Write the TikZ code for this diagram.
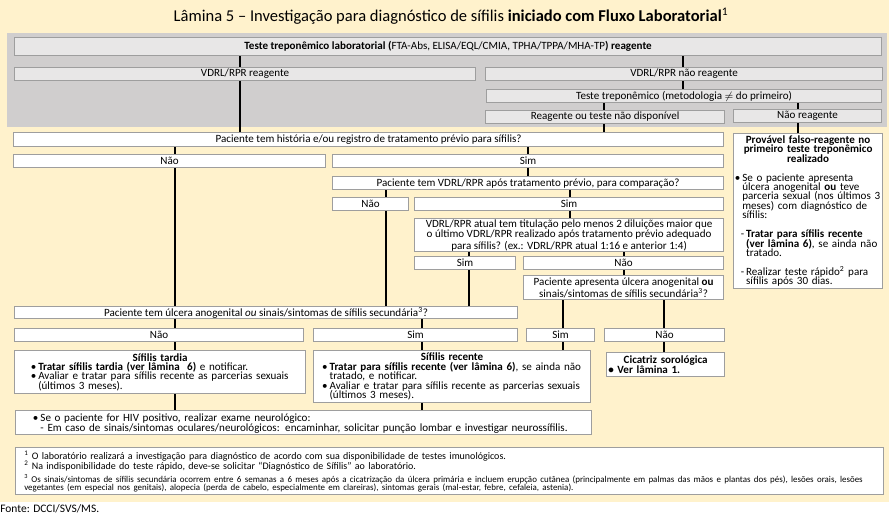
\documentclass[tikz,border=0pt]{standalone}
\usepackage{fontspec}
\setmainfont{Carlito}
\usepackage{tikz}
\definecolor{bege}{RGB}{255,242,204}
\definecolor{cinza}{RGB}{208,206,206}
\definecolor{cinzac}{RGB}{232,231,231}
\definecolor{borda}{RGB}{158,158,158}
\def \px {0.75pt}
\def \apertado {\lineskiplimit-10pt\relax}
\def \solto {\lineskip0pt\relax}
\def \bul {\par\setbox0\hbox{•\hspace{1.5pt}}\hangindent\wd0\hangafter1\noindent\box0}
\def \dsh {\par\setbox0\hbox{\hspace*{4.5pt}-\hspace{1.5pt}}\hangindent\wd0\hangafter1\noindent\box0}
\tikzstyle{caixa} = [draw=borda,line width=0.9pt,fill=white,inner sep=0,anchor=north west,align=center,font=\fontsize{8.3}{7.1}\selectfont]
\tikzstyle{cinzabox} = [caixa,fill=cinzac]
\tikzstyle{texto} = [caixa,align=left,font=\fontsize{8.3}{7.1}\selectfont\apertado]
\tikzstyle{wd} = [minimum width=#1*\px]
\tikzstyle{ht} = [minimum height=#1*\px]
\tikzstyle{ligacao} = [-,line width=1.4pt]

\begin{document}
\begin{tikzpicture}[x=\px,y=-\px]
  \useasboundingbox (0,0) rectangle (889,516);
  % fundo
  \fill[bege] (0,0) rectangle (889,502);
  \fill[cinza] (7,33) rectangle (887,127);
  \node[font=\fontsize{12.4}{14}\selectfont] (titulo) at (451,16) {Lâmina 5 – Investigação para diagnóstico de sífilis \textbf{iniciado com Fluxo Laboratorial}\textsuperscript{1}};

  % fluxo laboratorial
  \node[cinzabox,wd=867,ht=18] (trep) at (14,37) {\textbf{Teste treponêmico laboratorial (}FTA-Abs, ELISA/EQL/CMIA, TPHA/TPPA/MHA-TP\textbf{) reagente}};
  \node[cinzabox,wd=461,ht=13] (vdrlr) at (14,67) {VDRL/RPR reagente};
  \node[cinzabox,wd=397,ht=13] (vdrlnr) at (485,67) {VDRL/RPR não reagente};
  \node[cinzabox,wd=395,ht=13] (trepb) at (486,89) {Teste treponêmico (metodologia $\neq$ do primeiro)};
  \node[cinzabox,wd=239,ht=13] (reagnd) at (485,110) {Reagente ou teste não disponível};
  \node[cinzabox,wd=148,ht=13] (nreag) at (733,109) {Não reagente};

  \node[caixa,wd=710,ht=14] (hist) at (13,132) {Paciente tem história e/ou registro de tratamento prévio para sífilis?};
  \node[caixa,wd=312,ht=13] (histn) at (13,154) {Não};
  \node[caixa,wd=391,ht=13] (hists) at (332,154) {Sim};
  \node[caixa,wd=391,ht=13] (vdrlp) at (332,176) {Paciente tem VDRL/RPR após tratamento prévio, para comparação?};
  \node[caixa,wd=76,ht=13] (vdrlpn) at (332,197) {Não};
  \node[caixa,wd=309,ht=13] (vdrlps) at (414,197) {Sim};
  \node[caixa,wd=309,ht=33] (titul) at (414,218) {VDRL/RPR atual tem titulação pelo menos 2 diluições maior que\\o último VDRL/RPR realizado após tratamento prévio adequado\\para sífilis? (ex.: VDRL/RPR atual 1:16 e anterior 1:4)};
  \node[caixa,wd=101,ht=13] (tituls) at (414,256) {Sim};
  \node[caixa,wd=200,ht=13] (tituln) at (523,256) {Não};
  \node[caixa,wd=200,ht=24] (ulcb) at (523,275) {Paciente apresenta úlcera anogenital \textbf{ou}\\sinais/sintomas de sífilis secundária\textsuperscript{3}?};
  \node[caixa,wd=68,ht=13] (ulcbs) at (526,328) {Sim};
  \node[caixa,wd=120,ht=13] (ulcbn) at (604,328) {Não};
  \node[caixa,wd=503,ht=12] (ulca) at (14,306) {Paciente tem úlcera anogenital \textit{ou} sinais/sintomas de sífilis secundária\textsuperscript{3}?};
  \node[caixa,wd=289,ht=13] (ulcan) at (14,328) {Não};
  \node[caixa,wd=204,ht=13] (ulcas) at (313,328) {Sim};

  % condutas
  \node[texto,wd=291,ht=43,text width=198pt] (tardia) at (14,350) {\leftskip2pt{\centering\textbf{Sífilis tardia}\par}
    \bul\textbf{Tratar sífilis tardia (ver lâmina~~6)} e notificar.
    \bul Avaliar e tratar para sífilis recente as parcerias sexuais\newline (últimos 3 meses).\par};
  \node[texto,wd=277,ht=52,text width=205pt] (recente) at (313,350) {\leftskip5pt{\centering\textbf{Sífilis recente}\par}
    \bul\textbf{Tratar para sífilis recente (ver lâmina 6)}, se ainda não\newline tratado, e notificar.
    \bul Avaliar e tratar para sífilis recente as parcerias sexuais\newline (últimos 3 meses).\par};
  \node[texto,wd=118,ht=24,text width=86pt] (cicat) at (606,352) {{\centering\textbf{Cicatriz sorológica}\par}
    \noindent\textbf{• Ver lâmina 1.}\par};
  \node[texto,wd=576,ht=24,text width=406pt] (hiv) at (15,410) {\bul Se o paciente for HIV positivo, realizar exame neurológico:\newline - Em caso de sinais/sintomas oculares/neurológicos: encaminhar, solicitar punção lombar e investigar neurossífilis.\par};
  \node[texto,wd=149,ht=155,text width=110pt] (falso) at (733,133) {{\centering\textbf{Provável falso-reagente no\\primeiro teste treponêmico\\realizado}\par}
    \vspace{7pt}
    \bul Se o paciente apresenta\newline úlcera anogenital \textbf{ou} teve\newline parceria sexual (nos últimos 3\newline meses) com diagnóstico de\newline sífilis:\par
    \vspace{7pt}
    \dsh\textbf{Tratar para sífilis recente\newline (ver lâmina 6)}, se ainda não\newline tratado.\par
    \vspace{7pt}
    \dsh Realizar teste rápido\textsuperscript{2} para\newline sífilis após 30 dias.\par};

  % notas
  \node[texto,wd=868,ht=47,text width=638pt,font=\fontsize{7.5}{6.75}\selectfont\solto] (notas) at (15,447) {\textsuperscript{1} O laboratório realizará a investigação para diagnóstico de acordo com sua disponibilidade de testes imunológicos.\\
    \textsuperscript{2} Na indisponibilidade do teste rápido, deve-se solicitar “Diagnóstico de Sífilis” ao laboratório.\par
    \vspace{2.2pt}
    {\fontsize{6.7}{4.6}\selectfont\textsuperscript{3} Os sinais/sintomas de sífilis secundária ocorrem entre 6 semanas a 6 meses após a cicatrização da úlcera primária e incluem erupção cutânea (principalmente em palmas das mãos e plantas dos pés), lesões orais, lesões\\
    vegetantes (em especial nos genitais), alopecia (perda de cabelo, especialmente em clareiras), sintomas gerais (mal-estar, febre, cefaleia, astenia).\par}};
  \node[anchor=west,inner sep=0,font=\fontsize{8.6}{10}\selectfont] (fonte) at (0,509) {Fonte: DCCI/SVS/MS.};

  % colunas das ligacoes
  \coordinate (ca) at (240,0);
  \coordinate (cb) at (683,0);
  \coordinate (cc) at (604,0);
  \coordinate (cd) at (798,0);
  \coordinate (ce) at (175,0);
  \coordinate (cf) at (528,0);
  \coordinate (cg) at (386,0);
  \coordinate (ch) at (570,0);
  \coordinate (ci) at (469,0);
  \coordinate (cj) at (624,0);
  \coordinate (ck) at (563,0);
  \coordinate (cl) at (664,0);
  \coordinate (cm) at (422,0);

  \draw[ligacao] (trep.south -| ca) -- (vdrlr.north -| ca);
  \draw[ligacao] (vdrlr.south -| ca) -- (hist.north -| ca);
  \draw[ligacao] (trep.south -| cb) -- (vdrlnr.north -| cb);
  \draw[ligacao] (vdrlnr.south -| cb) -- (trepb.north -| cb);
  \draw[ligacao] (trepb.south -| cc) -- (reagnd.north -| cc);
  \draw[ligacao] (reagnd.south -| cc) -- (hist.north -| cc);
  \draw[ligacao] (trepb.south -| cd) -- (nreag.north -| cd);
  \draw[ligacao] (nreag.south -| cd) -- (falso.north -| cd);
  \draw[ligacao] (hist.south -| ce) -- (histn.north -| ce);
  \draw[ligacao] (histn.south -| ce) -- (ulca.north -| ce);
  \draw[ligacao] (ulca.south -| ce) -- (ulcan.north -| ce);
  \draw[ligacao] (ulcan.south -| ce) -- (tardia.north -| ce);
  \draw[ligacao] (tardia.south -| ce) -- (hiv.north -| ce);
  \draw[ligacao] (hist.south -| cf) -- (hists.north -| cf);
  \draw[ligacao] (hists.south -| cf) -- (vdrlp.north -| cf);
  \draw[ligacao] (vdrlp.south -| cg) -- (vdrlpn.north -| cg);
  \draw[ligacao] (vdrlpn.south -| cg) -- (ulca.north -| cg);
  \draw[ligacao] (vdrlp.south -| ch) -- (vdrlps.north -| ch);
  \draw[ligacao] (vdrlps.south -| ch) -- (titul.north -| ch);
  \draw[ligacao] (titul.south -| ci) -- (tituls.north -| ci);
  \draw[ligacao] (tituls.south -| ci) -- (ulca.north -| ci);
  \draw[ligacao] (titul.south -| cj) -- (tituln.north -| cj);
  \draw[ligacao] (tituln.south -| cj) -- (ulcb.north -| cj);
  \draw[ligacao] (ulcb.south -| ck) -- (ulcbs.north -| ck);
  \draw[ligacao] (ulcbs.south -| ck) -- (recente.north -| ck);
  \draw[ligacao] (ulcb.south -| cl) -- (ulcbn.north -| cl);
  \draw[ligacao] (ulcbn.south -| cl) -- (cicat.north -| cl);
  \draw[ligacao] (ulca.south -| cm) -- (ulcas.north -| cm);
  \draw[ligacao] (ulcas.south -| cm) -- (recente.north -| cm);
  \draw[ligacao] (recente.south -| cm) -- (hiv.north -| cm);
\end{tikzpicture}
\end{document}
